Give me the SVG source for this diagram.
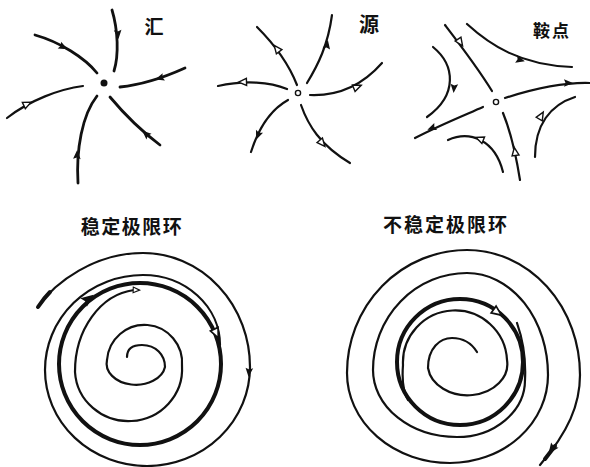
<svg xmlns="http://www.w3.org/2000/svg" width="590" height="467" viewBox="0 0 590 467">
<style>
.t{fill:none;stroke:#111;stroke-width:2.2;stroke-linecap:round;stroke-linejoin:round}
.b{fill:none;stroke:#111;stroke-width:2.8;stroke-linecap:round;stroke-linejoin:round}
.k{fill:none;stroke:#111;stroke-width:4;stroke-linecap:round}
.lbl{font-family:"Noto Sans CJK SC","Noto Sans CJK JP",sans-serif;fill:#111;font-weight:700}
</style>
<defs>
<path id="af" d="M5,0 L-4,-3.8 L-2.5,0 L-4,3.8 Z" fill="#111"/>
<path id="ah" d="M4.5,0 L-3.5,-3.5 L-3.5,3.5 Z" fill="#fff" stroke="#111" stroke-width="1.4"/>
</defs>
<rect width="590" height="467" fill="#fff"/>

<g id="sink">
<text class="lbl" x="154" y="34" font-size="19" text-anchor="middle" font-weight="400">汇</text>
<circle cx="104" cy="83" r="3.5" fill="#111"/>
<path class="b" d="M112,10 C118,30 119,55 114,71"/>
<path class="b" d="M35,35 C60,42 85,58 97,73"/>
<path class="b" d="M185,68 C165,77 140,85 120,87"/>
<path class="t" d="M7,118 C30,100 60,89 83,86"/>
<path class="b" d="M78,183 C76,150 82,115 97,96"/>
<path class="b" d="M110,97 C125,115 140,130 160,145"/>
<use href="#af" transform="translate(118,34) rotate(85)"/>
<use href="#af" transform="translate(63,47) rotate(27)"/>
<use href="#af" transform="translate(160,78) rotate(162)"/>
<use href="#ah" transform="translate(27,104) rotate(-25)"/>
<use href="#af" transform="translate(77,155) rotate(-88)"/>
<use href="#af" transform="translate(146,134) rotate(-138)"/>
</g>

<g id="source">
<text class="lbl" x="369" y="32" font-size="20" text-anchor="middle">源</text>
<circle cx="298" cy="93" r="2.6" fill="#fff" stroke="#111" stroke-width="1.4"/>
<path class="t" d="M257,27 C272,42 288,62 297,85"/>
<path class="t" d="M307,83 C318,65 328,45 332,15"/>
<path class="t" d="M287,89 C270,82 245,80 218,86"/>
<path class="t" d="M310,95 C335,96 360,88 382,63"/>
<path class="t" d="M288,100 C270,110 258,130 251,152"/>
<path class="t" d="M301,105 C308,125 320,145 350,163"/>
<use href="#ah" transform="translate(277,49) rotate(-128)"/>
<use href="#af" transform="translate(327,45) rotate(-80)"/>
<use href="#ah" transform="translate(243,82) rotate(178)"/>
<use href="#ah" transform="translate(357,87) rotate(-22)"/>
<use href="#af" transform="translate(258,135) rotate(112)"/>
<use href="#ah" transform="translate(322,143) rotate(50)"/>
</g>

<g id="saddle">
<text class="lbl" x="552" y="37" font-size="17" text-anchor="middle" letter-spacing="2">鞍点</text>
<circle cx="496" cy="102" r="2.6" fill="#fff" stroke="#111" stroke-width="1.4"/>
<path class="t" d="M445,25 C458,42 478,68 492,91"/>
<path class="t" d="M503,113 C512,135 516,155 520,180"/>
<path class="t" d="M483,107 C465,115 440,125 415,138"/>
<path class="t" d="M505,98 C530,90 560,82 590,83"/>
<path class="t" d="M467,24 C490,45 520,65 572,67"/>
<path class="t" d="M433,47 C455,65 458,95 427,117"/>
<path class="t" d="M448,140 C470,130 495,140 503,172"/>
<path class="t" d="M575,97 C550,105 535,125 535,157"/>
<use href="#ah" transform="translate(460,42) rotate(56)"/>
<use href="#ah" transform="translate(515,152) rotate(-99)"/>
<use href="#af" transform="translate(432,128) rotate(158)"/>
<use href="#af" transform="translate(568,83) rotate(0)"/>
<use href="#af" transform="translate(520,60) rotate(15)"/>
<use href="#af" transform="translate(454,88) rotate(95)"/>
<use href="#ah" transform="translate(480,139) rotate(-158)"/>
<use href="#ah" transform="translate(541,116) rotate(-60)"/>
</g>

<g id="stable-limit-cycle">
<text class="lbl" x="132" y="234" font-size="19" text-anchor="middle" letter-spacing="1.5">稳定极限环</text>
<circle class="k" cx="140" cy="364" r="81"/>
<path class="t" d="M38,307 C55,282 95,253 143,253 A107,114 0 0 1 250,367 A103,99 0 0 1 147,466 A102,96 0 0 1 45,370 A98,95 0 0 1 143,275 A77,70 0 0 1 220,345"/>
<path class="k" d="M38,307 C42,301 46,296 50,292"/>
<path class="t" d="M127,357 C127,348 133,345 142,345 C156,345 165,355 165,367 A29,21 0 0 1 107,360 A37.5,38 0 0 1 182,366 A53.5,52 0 0 1 75,372 A66,82 0 0 1 134,290"/>
<use href="#af" transform="translate(88,299) rotate(-38) scale(1.4)"/>
<use href="#ah" transform="translate(216,333) rotate(65) scale(1.2)"/>
<use href="#af" transform="translate(249,372) rotate(95)"/>
<use href="#ah" transform="translate(136,290) rotate(2) scale(0.8)"/>
</g>

<g id="unstable-limit-cycle">
<text class="lbl" x="446" y="232" font-size="19" text-anchor="middle" letter-spacing="2">不稳定极限环</text>
<circle class="k" cx="460" cy="362" r="63"/>
<path class="t" d="M408,400 C402,390 402,378 403,365 A52,52 0 0 1 507,360 A39.5,31 0 0 1 428,368 C428,348 440,338 452,338 C465,338 472,344 477,352"/>
<path class="t" d="M517,323 C523,340 526,360 525,380 A68,57 0 0 1 457,437 A84,67 0 0 1 373,370 A94,97 0 0 1 467,273 A81,102 0 0 1 548,375 A98,88 0 0 1 450,463 A103,90 0 0 1 347,373 A120,123 0 0 1 467,250 A113,125 0 0 1 580,375 C580,405 568,432 540,465"/>
<path class="k" d="M555,446 L545,459"/>
<use href="#ah" transform="translate(497,312) rotate(36) scale(1.2)"/>
<use href="#af" transform="translate(552,449) rotate(126) scale(1.2)"/>
</g>
</svg>
